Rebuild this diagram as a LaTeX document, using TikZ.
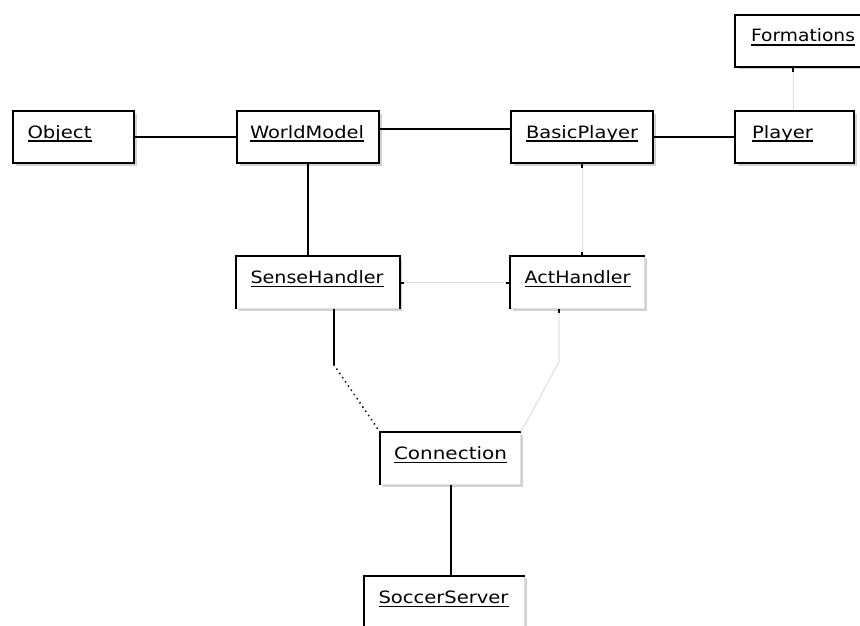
\documentclass[tikz,border=0pt]{standalone}
\usepackage{fontspec}
\setmainfont{DejaVu Sans}
\usetikzlibrary{calc,shadows}
\newcommand{\clsname}[2]{\rlap{\rule[-3.7pt]{#1pt}{1.3pt}}\resizebox{#1pt}{\height}{#2}}
\begin{document}
\begin{tikzpicture}[x=1pt,y=-1pt,
  cls/.style={anchor=north west, inner ysep=0pt, text height=27pt, text depth=25pt,
    align=left, fill=white, font=\fontsize{17}{20}\selectfont,
    drop shadow={shadow xshift=2.5pt, shadow yshift=-2.5pt, fill=black!18, opacity=1}},
  fullbox/.style={cls, draw=black, line width=2pt},
  openbox/.style={cls, draw=black!12, line width=1pt},
  boxline/.style={draw=black, line width=2pt, line join=miter},
  link/.style={draw=black, line width=2pt},
  faint/.style={draw=black!13, line width=1pt},
  tick/.style={draw=black, line width=2pt},
  dots/.style={draw=black, line width=2pt, dash pattern=on 0.1pt off 5pt, line cap=round}
]
\useasboundingbox (0,0) rectangle (860,626);
\clip (0,0) rectangle (860,626);
\fill[white] (0,0) rectangle (860,626);

% boxes
\node[fullbox, inner xsep=14.5pt, text width=92pt]  (Object)      at (12,110)  {\clsname{64}{Object}};
\node[fullbox, inner xsep=13pt,   text width=116pt] (WorldModel)  at (236,110) {\clsname{114}{WorldModel}};
\node[fullbox, inner xsep=15pt,   text width=112pt] (BasicPlayer) at (510,110) {\clsname{112}{BasicPlayer}};
\node[fullbox, inner xsep=17pt,   text width=85pt]  (Player)      at (734,110) {\clsname{61}{Player}};
\node[fullbox, inner xsep=16pt,   text width=120pt] (Formations)  at (734,14)  {\clsname{104}{Formations}};
\node[openbox, inner xsep=14pt,   text width=135pt] (SenseHandler) at (236,256) {\clsname{133}{SenseHandler}};
\node[openbox, inner xsep=14pt,   text width=106pt] (ActHandler)  at (510,256) {\clsname{106}{ActHandler}};
\node[openbox, inner xsep=13.5pt, text width=113pt] (Connection)  at (380,432) {\clsname{113}{Connection}};
\node[openbox, inner xsep=14pt,   text width=132pt] (SoccerServer) at (364,576) {\clsname{130}{SoccerServer}};

% black borders of the open boxes
\draw[boxline] (SenseHandler.south west) -- (SenseHandler.north west) -- (SenseHandler.north east) -- (SenseHandler.south east);
\draw[boxline] (ActHandler.south west) -- (ActHandler.north west) -- (ActHandler.north east);
\draw[boxline] (Connection.south west) -- (Connection.north west) -- (Connection.north east);
\draw[boxline] (SoccerServer.south west) -- (SoccerServer.north west) -- (SoccerServer.north east);

% helper coordinates
\coordinate (fp) at (793,0);
\coordinate (sb) at (334,365);
\coordinate (ab) at (559,362);

% connectors
\draw[link] (Object.east) -- (WorldModel.west);
\draw[link] ([yshift=8pt]WorldModel.east) -- ([yshift=8pt]BasicPlayer.west);
\draw[link] (BasicPlayer.east) -- (Player.west);
\draw[faint] (Formations.south -| fp) -- (Player.north -| fp);
\draw[link] (WorldModel.south) -- (WorldModel.south |- SenseHandler.north);
\draw[faint] (BasicPlayer.south) -- (BasicPlayer.south |- ActHandler.north);
\draw[faint] (SenseHandler.east) -- (SenseHandler.east -| ActHandler.west);
\draw[link] (SenseHandler.south -| sb) -- (sb);
\draw[dots] (sb) -- (Connection.north west);
\draw[faint] (ActHandler.south -| ab) -- (ab) -- (Connection.north east);
\draw[link] (Connection.south) -- (Connection.south |- SoccerServer.north);

% end ticks
\draw[tick] (Formations.south -| fp) -- ++(0,4);
\draw[tick] (BasicPlayer.south) -- ++(0,4);
\draw[tick] (BasicPlayer.south |- ActHandler.north) -- ++(0,-4);
\draw[tick] (SenseHandler.east) -- ++(4,0);
\draw[tick] (SenseHandler.east -| ActHandler.west) -- ++(-4,0);
\draw[tick] (ActHandler.south -| ab) -- ++(0,4);
\end{tikzpicture}
\end{document}
